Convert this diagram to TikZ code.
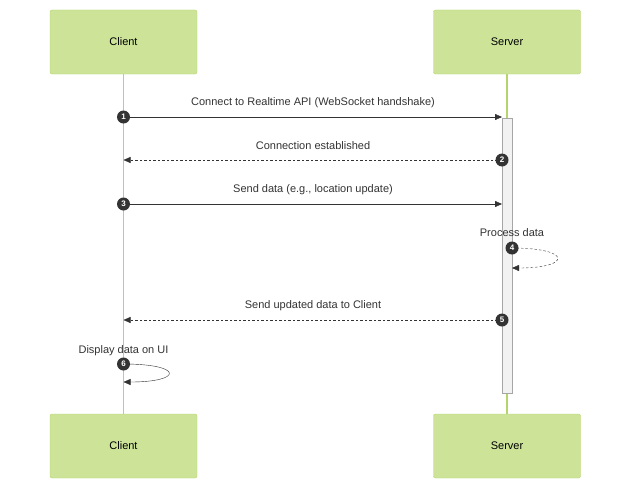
\documentclass[tikz,border=0pt]{standalone}
\usepackage{fontspec}
\setmainfont{Liberation Sans}
\usetikzlibrary{arrows.meta}
\definecolor{actorfill}{HTML}{CDE498}
\definecolor{actorline}{HTML}{B5D46E}
\definecolor{ink}{HTML}{333333}
\tikzset{
  actor/.style={draw=actorline,fill=actorfill,rounded corners=2pt,minimum width=147pt,minimum height=64pt,font=\fontsize{11}{13}\selectfont,text=black},
  msg/.style={draw=ink,-{Triangle[length=7pt,width=6pt]}},
  reply/.style={msg,dash pattern=on 2.5pt off 2pt},
  lbl/.style={font=\fontsize{11}{13}\selectfont,text=ink},
  num/.style={circle,fill=ink,text=white,inner sep=0pt,minimum size=13pt,font=\fontsize{8}{9}\selectfont\bfseries},
}
\begin{document}
\begin{tikzpicture}[x=1pt,y=-1pt]
\useasboundingbox (0,0) rectangle (644,495);
% actors
\node[actor] (ct) at (123.5,42) {Client};
\node[actor] (st) at (507,42) {Server};
\node[actor] (cb) at (123.5,446) {Client};
\node[actor] (sb) at (507,446) {Server};
\draw[actorline,line width=1.5pt] (ct) -- (cb);
\draw[actorline,line width=1.5pt] (st) -- (sb);
% activation
\draw[draw=gray!70,fill=gray!10] (502,118) rectangle (512,393);
% anchors
\coordinate (c1) at (123.5,117); \coordinate (s1) at (502,117);
\coordinate (c2) at (123.5,160); \coordinate (s2) at (502,160);
\coordinate (c3) at (123.5,204); \coordinate (s3) at (502,204);
\coordinate (s4) at (512,248);   \coordinate (s4e) at (512,268);
\coordinate (c5) at (123.5,320); \coordinate (s5) at (502,320);
\coordinate (c6) at (123.5,364); \coordinate (c6e) at (123.5,382);
% messages
\draw[msg] (c1) -- (s1);
\node[lbl] at (313,103) {Connect to Realtime API (WebSocket handshake)};
\draw[reply] (s2) -- (c2);
\node[lbl] at (313,146) {Connection established};
\draw[msg] (c3) -- (s3);
\node[lbl] at (313,190) {Send data (e.g., location update)};
\draw[reply] (s4) .. controls +(60,0) and +(60,0) .. (s4e);
\node[lbl] at (512,233) {Process data};
\draw[reply] (s5) -- (c5);
\node[lbl] at (313,306) {Send updated data to Client};
\draw[msg] (c6) .. controls +(60,0) and +(60,0) .. (c6e);
\node[lbl] at (123.5,351) {Display data on UI};
% sequence numbers
\foreach \p/\n in {c1/1,s2/2,c3/3,s4/4,s5/5,c6/6}
  \node[num] at (\p) {\n};
\end{tikzpicture}
\end{document}
